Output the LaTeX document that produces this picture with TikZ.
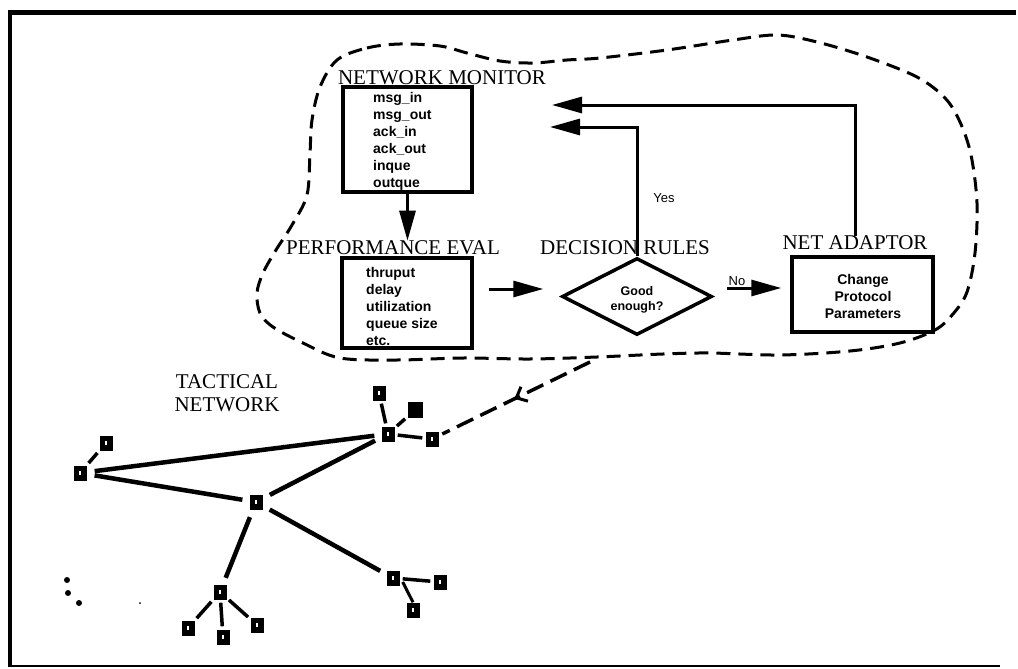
\documentclass[tikz,border=0pt]{standalone}
\usepackage{fontspec}
\newfontfamily\lsans{Liberation Sans}
\newfontfamily\lserif{Liberation Serif}
\usetikzlibrary{arrows.meta,shapes.geometric,calc,decorations.markings}
\tikzset{
  ttl/.style={font=\lserif\fontsize{21}{23}\selectfont, inner sep=0pt, align=center},
  boxnode/.style={draw, line width=3.5pt, inner sep=0pt},
  lst/.style={font=\lsans\bfseries\fontsize{14}{17}\selectfont, align=left, inner sep=0pt, anchor=north west},
  ctr/.style={font=\lsans\bfseries\fontsize{14}{17}\selectfont, align=center, inner sep=0pt},
  arr/.style={line width=3pt, -{Triangle[length=30pt,width=16pt]}},
  cloudline/.style={line width=3pt, dash pattern=on 14pt off 8pt},
  link/.style={line width=4.5pt, shorten <=8pt, shorten >=7pt},
  stub/.style={line width=3.5pt, shorten <=3pt, shorten >=3pt},
  nn/.style={fill=black, minimum width=13pt, minimum height=15pt, inner sep=0pt,
    path picture={\fill[white] ([xshift=-1pt,yshift=-2pt]path picture bounding box.center) rectangle ++(1.6pt,4pt);}},
  nnfull/.style={fill=black, minimum width=15pt, minimum height=16pt, inner sep=0pt},
  dotmark/.style={fill=black, circle, inner sep=0pt},
}
\begin{document}
\begin{tikzpicture}[x=1pt,y=-1pt]
\useasboundingbox (0,0) rectangle (1018,669);
% frame
\draw[line width=5pt] (8,12.5) -- (1016,12.5);
\draw[line width=4pt] (10,10.5) -- (10,667);
\draw[line width=2.5pt] (9,666) -- (1000,666);

% cloud
\draw[cloudline] plot[smooth cycle, tension=0.55] coordinates {
 (337,60) (367,48) (400,44) (440,46) (467,53) (500,61) (533,63) (567,60) (600,58)
 (667,50) (733,40) (777,35) (817,42) (867,57) (917,77) (945,98) (960,122) (971,155)
 (977,203) (975,253) (967,292) (953,314) (935,330) (900,343) (850,351) (780,355)
 (710,353) (663,354) (597,357) (530,359) (463,358) (397,360) (340,358) (303,343)
 (273,327) (260,313) (257,293) (263,273) (276,250) (292,225) (307,195) (310,153)
 (312,120) (320,87)};

% titles
\node[ttl] (nmt) at (442,78) {NETWORK MONITOR};
\node[ttl] (pet) at (393,248) {PERFORMANCE EVAL};
\node[ttl] (drt) at (625,248) {DECISION RULES};
\node[ttl] (nat) at (855,243) {NET ADAPTOR};
\node[ttl] (tnt) at (227,393) {TACTICAL\\NETWORK};

% boxes
\node[boxnode, minimum width=129pt, minimum height=105pt] (nm) at (407.5,139.5) {};
\node[lst] (nmtxt) at (373,92) {msg\_in\\msg\_out\\ack\_in\\ack\_out\\inque\\outque};
\node[boxnode, minimum width=130pt, minimum height=90pt] (pe) at (407,303) {};
\node[lst] (petxt) at (366,267) {thruput\\delay\\utilization\\queue size\\etc.};
\node[boxnode, minimum width=141pt, minimum height=75pt] (na) at (862.5,294.5) {};
\node[ctr] (natxt) at (863,296) {Change\\Protocol\\Parameters};
\node[draw, diamond, line width=3.5pt, minimum width=150pt, minimum height=77pt, inner sep=0pt] (dia) at (637,296.5) {};
\node[font=\lsans\bfseries\fontsize{12.5}{15}\selectfont, align=center, inner sep=0pt] (diatxt) at (637,300) {Good\\enough?};

% labels
\node[font=\lsans\fontsize{13}{15}\selectfont, inner sep=0pt] (yes) at (664,198) {Yes};
\node[font=\lsans\fontsize{13}{15}\selectfont, inner sep=0pt] (no) at (737,281) {No};

% flow arrows
\coordinate (nmin1) at (552,105);
\coordinate (nmin2) at (550,127);
\draw[arr] (nm.south) -- (nm.south |- pet.north);
\draw[arr] ($(pe.east)+(15,-14)$) -- ($(dia.west)+(-17,-7.5)$);
\draw[arr] ($(dia.east)+(13,-8.5)$) -- ($(na.west)+(-9,-6.5)$);
\draw[arr] (dia.north) |- (nmin2);
\draw[arr] (nat.north) |- (nmin1);

% tactical network
\node[nn] (A) at (388,434) {};
\node[nn] (At) at (379,393) {};
\node[nnfull] (Af) at (415,410) {};
\node[nn] (Ar) at (432,439) {};
\node[nn] (B) at (80,473) {};
\node[nn] (Bt) at (106,443) {};
\node[nn] (C) at (256,502) {};
\node[nn] (D) at (220,592) {};
\node[nn] (D1) at (188,628) {};
\node[nn] (D2) at (223,637) {};
\node[nn] (D3) at (257,625) {};
\node[nn] (E) at (393,578) {};
\node[nn] (Er) at (440,582) {};
\node[nn] (Eb) at (413,610) {};

\draw[link] (B) -- (A);
\draw[link] (B) -- (C);
\draw[link] (C) -- (A);
\draw[link] (C) -- (D);
\draw[link] (C) -- (E);
\draw[stub] (B) -- (Bt);
\draw[stub] (A) -- (At);
\draw[stub] (A) -- (Af);
\draw[stub] (A) -- (Ar);
\draw[stub] (D) -- (D1);
\draw[stub] (D) -- (D2);
\draw[stub] (D) -- (D3);
\draw[stub] (E) -- (Er);
\draw[line width=3pt] ($(E.east)+(3,4)$) -- (Eb.north);

% connector from cloud to network
\coordinate (cb) at (590,362);
\draw[line width=3.5pt, dash pattern=on 18pt off 8pt, shorten >=4pt,
  decoration={markings, mark=at position 0.5 with {\arrow[line width=3pt]{Straight Barb[length=9pt,width=16pt]}}},
  postaction={decorate}] (cb) -- (Ar);

% scan dots
\node[dotmark, minimum size=6pt] (d1) at (67,580) {};
\node[dotmark, minimum size=6pt] (d2) at (68,593) {};
\node[dotmark, minimum size=6pt] (d3) at (79,603) {};
\node[dotmark, minimum size=2pt] (d4) at (140,603) {};
\end{tikzpicture}
\end{document}
